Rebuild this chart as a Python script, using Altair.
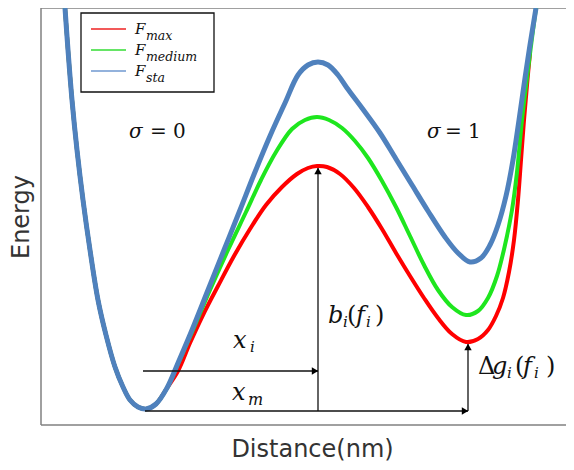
import altair as alt
import pandas as pd

# ---------------- data (distance in nm, energy a.u.) ----------------
wall_d = [0.24, 0.27, 0.31, 0.36, 0.42, 0.49, 0.57, 0.65, 0.74, 0.82, 0.89, 0.97, 1.05, 1.15, 1.26]
wall_e = [4.17, 3.75, 3.25, 2.75, 2.25, 1.75, 1.25, 0.90, 0.58, 0.38, 0.25, 0.18, 0.16, 0.21, 0.37]

sta_d = wall_d + [1.37, 1.51, 1.67, 1.83, 1.99, 2.14, 2.29, 2.44, 2.57, 2.67, 2.77, 2.87, 2.97,
                  3.06, 3.21, 3.39, 3.55, 3.71, 3.87, 4.04, 4.17, 4.29, 4.40, 4.49, 4.57,
                  4.65, 4.72, 4.78, 4.84, 4.89, 4.95]
sta_e = wall_e + [0.62, 0.95, 1.35, 1.75, 2.15, 2.53, 2.89, 3.22, 3.50, 3.60, 3.63, 3.60, 3.50,
                  3.37, 3.17, 2.92, 2.66, 2.40, 2.14, 1.88, 1.72, 1.63, 1.67, 1.80, 2.00,
                  2.29, 2.65, 3.05, 3.47, 3.80, 4.17]

med_d = wall_d + [1.37, 1.52, 1.69, 1.87, 2.05, 2.20, 2.35, 2.51, 2.64, 2.76, 2.88, 3.01, 3.14,
                  3.27, 3.41, 3.55, 3.69, 3.83, 3.97, 4.11, 4.25, 4.37, 4.47, 4.56, 4.64,
                  4.71, 4.76, 4.81, 4.86, 4.91, 4.95]
med_e = wall_e + [0.61, 0.95, 1.35, 1.75, 2.13, 2.45, 2.73, 2.96, 3.05, 3.08, 3.05, 2.97, 2.84,
                  2.67, 2.44, 2.18, 1.89, 1.60, 1.35, 1.18, 1.10, 1.14, 1.27, 1.49, 1.80,
                  2.15, 2.53, 3.05, 3.47, 3.87, 4.17]

max_d = wall_d + [1.37, 1.49, 1.62, 1.77, 1.93, 2.09, 2.25, 2.41, 2.56, 2.67, 2.76, 2.86, 2.99,
                  3.13, 3.27, 3.41, 3.55, 3.69, 3.83, 3.97, 4.11, 4.25, 4.37, 4.47, 4.55,
                  4.62, 4.68, 4.73, 4.77, 4.80, 4.83, 4.86, 4.89]
max_e = wall_e + [0.54, 0.82, 1.10, 1.39, 1.69, 1.96, 2.20, 2.38, 2.51, 2.57, 2.59, 2.58, 2.51,
                  2.37, 2.18, 1.96, 1.72, 1.49, 1.27, 1.07, 0.91, 0.83, 0.86, 0.95, 1.09,
                  1.27, 1.53, 1.85, 2.25, 2.65, 3.05, 3.40, 3.72]

# arrows: (start distance, start energy, end distance, end energy)
arrow_x1 = [1.02, 1.04, 2.77, 4.27]
arrow_y1 = [0.54, 0.14, 0.14, 0.14]
arrow_x2 = [2.77, 4.27, 2.77, 4.27]
arrow_y2 = [0.54, 0.14, 2.57, 0.81]
arrow_dir = ["right", "right", "up", "up"]

legend_names = ["max", "medium", "sta"]
legend_colors = ["#ee2222", "#33dd33", "#6f98d0"]

# ---------------- layout ----------------
W, H = 525, 417
XMAX, YMAX = 5.25, 4.17
xs = alt.Scale(domain=[0, XMAX], nice=False, zero=False)
ys = alt.Scale(domain=[0, YMAX], nice=False, zero=False)

xaxis = alt.Axis(title="Distance(nm)", labels=False, ticks=False, domain=False, grid=False,
                 titleFont="DejaVu Sans", titleFontSize=24, titleFontWeight="normal",
                 titleColor="#333333", titlePadding=12, titleX=271)
yaxis = alt.Axis(title="Energy", labels=False, ticks=False, domain=False, grid=False,
                 titleFont="DejaVu Sans", titleFontSize=24, titleFontWeight="normal",
                 titleColor="#333333", titlePadding=8)


def X(f):
    return alt.X(f, type="quantitative", scale=xs, axis=xaxis)


def Y(f):
    return alt.Y(f, type="quantitative", scale=ys, axis=yaxis)


one = pd.DataFrame({"k": [0]})
layers = []

# frame (left, top, bottom)
frame_col = "#808080"
layers.append(alt.Chart(one).mark_rule(color=frame_col, strokeWidth=1.5).encode(
    x=alt.value(0), y=alt.value(0), y2=alt.value(H)))
layers.append(alt.Chart(one).mark_rule(color=frame_col, strokeWidth=1.5).encode(
    x=alt.value(0), x2=alt.value(W + 20), y=alt.value(0)))
layers.append(alt.Chart(one).mark_rule(color=frame_col, strokeWidth=1.5).encode(
    x=alt.value(0), x2=alt.value(W + 20), y=alt.value(H)))

# curves
for d, e, col, sw in [(max_d, max_e, "#ff0000", 4), (med_d, med_e, "#1ee61e", 4),
                      (sta_d, sta_e, "#4f81bd", 5)]:
    df = pd.DataFrame({"d": d, "e": e})
    layers.append(alt.Chart(df).mark_line(color=col, strokeWidth=sw, interpolate="catmull-rom",
                                          clip=True).encode(x=X("d"), y=Y("e"), order="d:Q"))

# arrows
adf = pd.DataFrame({"x1": arrow_x1, "y1": arrow_y1, "x2": arrow_x2, "y2": arrow_y2, "dir": arrow_dir})
layers.append(alt.Chart(adf).mark_rule(color="#111111", strokeWidth=1.3).encode(
    x=X("x1"), y=Y("y1"), x2="x2", y2="y2"))
right = adf[adf["dir"] == "right"]
up = adf[adf["dir"] == "up"]
layers.append(alt.Chart(right).mark_point(shape="triangle-right", filled=True, size=55,
                                          color="black", opacity=1, xOffset=-3).encode(
    x=X("x2"), y=Y("y2")))
layers.append(alt.Chart(up).mark_point(shape="triangle-up", filled=True, size=55,
                                       color="black", opacity=1, yOffset=3).encode(
    x=X("x2"), y=Y("y2")))

# text pieces (math style)
MATH = "DejaVu Serif"


def txt(t, x, y, size, italic=True):
    kw = dict(font=MATH, fontSize=size, align="left", baseline="alphabetic", color="#111111")
    if italic:
        kw["fontStyle"] = "italic"
    return alt.Chart(one).mark_text(**kw).encode(x=alt.value(x), y=alt.value(y), text=alt.value(t))


layers += [
    txt("σ", 88, 130, 20), txt("= 0", 109, 130, 20, False),
    txt("σ", 386, 130, 20), txt("= 1", 404, 130, 20, False),
    txt("x", 192, 340, 24), txt("i", 209, 344, 15),
    txt("x", 191, 392, 24), txt("m", 207, 397, 16),
    txt("b", 287, 315, 24), txt("i", 302, 319, 15), txt("(", 306, 315, 24, False),
    txt("f", 315, 315, 24), txt("i", 325, 319, 15), txt(")", 334, 315, 24, False),
    txt("Δ", 437, 366, 24, False), txt("g", 451, 366, 24), txt("i", 466, 370, 15),
    txt("(", 474, 366, 24, False), txt("f", 482, 366, 24), txt("i", 493, 370, 15),
    txt(")", 505, 366, 24, False),
]

# legend box
layers.append(alt.Chart(one).mark_rect(fill="white", stroke="#111111", strokeWidth=1.3).encode(
    x=alt.value(40), x2=alt.value(173), y=alt.value(5), y2=alt.value(84)))
for i, (name, col) in enumerate(zip(legend_names, legend_colors)):
    yy = 21 + 21 * i
    layers.append(alt.Chart(one).mark_rule(color=col, strokeWidth=1.6).encode(
        x=alt.value(50), x2=alt.value(85), y=alt.value(yy)))
    layers.append(txt("F", 94, yy + 5, 15))
    layers.append(txt(name, 105, yy + 11, 12.5))

chart = alt.layer(*layers).properties(
    width=W, height=H, autosize=alt.AutoSizeParams(type="none"),
    padding={"left": 33, "top": 0, "right": 0, "bottom": 40},
).configure_view(stroke="transparent")

chart.save("out.html", embed_options={"renderer": "svg", "actions": False})
